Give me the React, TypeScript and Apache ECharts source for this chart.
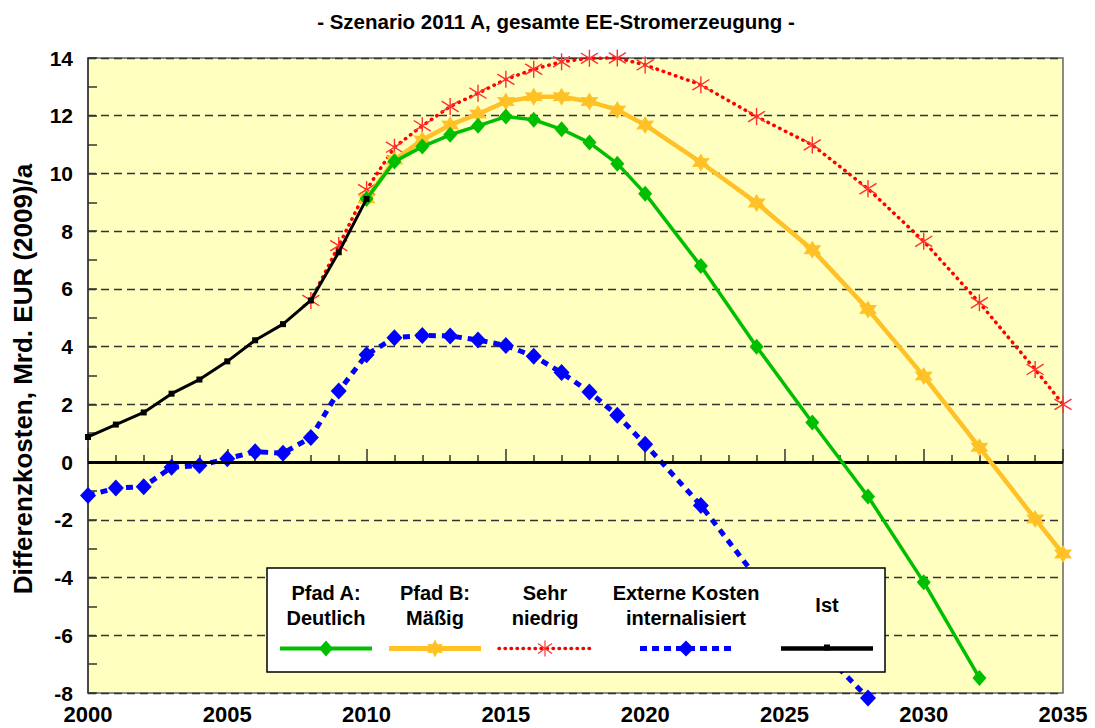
import React, { useEffect, useRef } from "react";
import * as echarts from "echarts";

const FONT = '"Liberation Sans", Arial, sans-serif';

const yearsIst = [2000, 2001, 2002, 2003, 2004, 2005, 2006, 2007, 2008, 2009, 2010];
const ist = [0.87, 1.3, 1.72, 2.37, 2.86, 3.49, 4.22, 4.78, 5.6, 7.27, 9.12];

const yearsA = [2010, 2011, 2012, 2013, 2014, 2015, 2016, 2017, 2018, 2019, 2020, 2022, 2024, 2026, 2028, 2030, 2032];
const pfadA = [9.12, 10.41, 10.93, 11.34, 11.65, 11.97, 11.86, 11.53, 11.07, 10.34, 9.3, 6.79, 4.0, 1.37, -1.19, -4.16, -7.48];

const yearsB = [2010, 2011, 2012, 2013, 2014, 2015, 2016, 2017, 2018, 2019, 2020, 2022, 2024, 2026, 2028, 2030, 2032, 2034, 2035];
const pfadB = [9.12, 10.47, 11.16, 11.68, 12.06, 12.49, 12.66, 12.66, 12.49, 12.2, 11.68, 10.38, 8.98, 7.36, 5.29, 2.98, 0.51, -1.97, -3.18];

const yearsSehr = [2008, 2009, 2010, 2011, 2012, 2013, 2014, 2015, 2016, 2017, 2018, 2019, 2020, 2022, 2024, 2026, 2028, 2030, 2032, 2034, 2035];
const sehrNiedrig = [5.6, 7.5, 9.44, 10.91, 11.65, 12.32, 12.78, 13.26, 13.61, 13.87, 13.99, 14.0, 13.76, 13.07, 11.97, 10.99, 9.47, 7.65, 5.52, 3.21, 2.0];

const yearsExt = [2000, 2001, 2002, 2003, 2004, 2005, 2006, 2007, 2008, 2009, 2010, 2011, 2012, 2013, 2014, 2015, 2016, 2017, 2018, 2019, 2020, 2022, 2024, 2026, 2028];
const extern = [-1.16, -0.9, -0.85, -0.18, -0.12, 0.12, 0.36, 0.31, 0.85, 2.46, 3.72, 4.31, 4.39, 4.37, 4.23, 4.04, 3.67, 3.1, 2.43, 1.62, 0.62, -1.5, -4.0, -6.2, -8.17];

const legendNames = [
  ["Pfad A:", "Deutlich"],
  ["Pfad B:", "Mäßig"],
  ["Sehr", "niedrig"],
  ["Externe Kosten", "internalisiert"],
  ["Ist"],
];

const title = "- Szenario 2011 A, gesamte EE-Stromerzeugung -";
const yTitle = "Differenzkosten, Mrd. EUR (2009)/a";

const GREEN = "#00BE00";
const ORANGE = "#FFC125";
const RED = "#FF0000";
const BLUE = "#0000FF";
const BLACK = "#000000";

const pairs = (xs: number[], ys: number[]) => xs.map((x, i) => [x, ys[i]]);

const STAR_PATH =
  "path://M10,0 L12.75,5.24 L18.66,5 L15.5,10 L18.66,15 L12.75,14.76 L10,20 L7.25,14.76 L1.34,15 L4.5,10 L1.34,5 L7.25,5.24 Z";
const AST_PATH = "path://M8,0L8,16M1,3L15,13M1,13L15,3";

function hexagram(cx: number, cy: number, r: number) {
  const pts: number[][] = [];
  for (let i = 0; i < 12; i++) {
    const a = (-90 + i * 30) * (Math.PI / 180);
    const rr = i % 2 === 0 ? r : r * 0.55;
    pts.push([cx + rr * Math.cos(a), cy + rr * Math.sin(a)]);
  }
  return pts;
}

export default function App() {
  const ref = useRef<HTMLDivElement>(null);
  useEffect(() => {
    if (!ref.current) return;
    const chart = echarts.init(ref.current, null, { renderer: "svg" });

    const lx = [326, 435, 545, 686, 827];
    const ly = 648.5;
    const half = 46;
    const legendGraphics: any[] = [
      {
        type: "rect",
        shape: { x: 267, y: 568, width: 618, height: 104 },
        style: { fill: "#fff", stroke: "#000", lineWidth: 1.5 },
        z: 100,
      },
    ];
    const lfont = `bold 20px ${FONT}`;
    legendNames.forEach((lines, i) => {
      if (lines.length === 2) {
        legendGraphics.push({
          type: "text",
          x: lx[i],
          y: 593,
          style: { text: lines[0], font: lfont, fill: "#000", textAlign: "center", textVerticalAlign: "middle" },
          z: 101,
        });
        legendGraphics.push({
          type: "text",
          x: lx[i],
          y: 618,
          style: { text: lines[1], font: lfont, fill: "#000", textAlign: "center", textVerticalAlign: "middle" },
          z: 101,
        });
      } else {
        legendGraphics.push({
          type: "text",
          x: lx[i],
          y: 605,
          style: { text: lines[0], font: lfont, fill: "#000", textAlign: "center", textVerticalAlign: "middle" },
          z: 101,
        });
      }
    });
    const sample = (i: number, stroke: string, lineWidth: number, lineDash: any, cap = "butt") => ({
      type: "line",
      shape: { x1: lx[i] - half, y1: ly, x2: lx[i] + half, y2: ly },
      style: { stroke, lineWidth, lineDash, lineCap: cap },
      z: 101,
    });
    legendGraphics.push(sample(0, GREEN, 4, null));
    legendGraphics.push({
      type: "polygon",
      shape: { points: [[lx[0], ly - 8], [lx[0] + 7, ly], [lx[0], ly + 8], [lx[0] - 7, ly]] },
      style: { fill: GREEN },
      z: 102,
    });
    legendGraphics.push(sample(1, ORANGE, 5, null));
    legendGraphics.push({
      type: "polygon",
      shape: { points: hexagram(lx[1], ly, 9) },
      style: { fill: ORANGE },
      z: 102,
    });
    legendGraphics.push(sample(2, RED, 3.5, [0.5, 5.5], "round"));
    [[0, -8, 0, 8], [-7, -5, 7, 5], [-7, 5, 7, -5]].forEach((s) =>
      legendGraphics.push({
        type: "line",
        shape: { x1: lx[2] + s[0], y1: ly + s[1], x2: lx[2] + s[2], y2: ly + s[3] },
        style: { stroke: "#FF3030", lineWidth: 1.2 },
        z: 102,
      })
    );
    legendGraphics.push(sample(3, BLUE, 5, [7, 5]));
    legendGraphics.push({
      type: "polygon",
      shape: { points: [[lx[3], ly - 8], [lx[3] + 8, ly], [lx[3], ly + 8], [lx[3] - 8, ly]] },
      style: { fill: BLUE },
      z: 102,
    });
    legendGraphics.push(sample(4, BLACK, 4.5, null));
    legendGraphics.push({
      type: "rect",
      shape: { x: lx[4] - 3, y: ly - 4, width: 6, height: 6 },
      style: { fill: BLACK },
      z: 102,
    });

    const option: any = {
      animation: false,
      backgroundColor: "#ffffff",
      textStyle: { fontFamily: FONT },
      grid: {
        left: 88,
        right: 32,
        top: 58,
        bottom: 35,
        show: true,
        backgroundColor: "#FFFFC0",
        borderColor: "#666666",
        borderWidth: 1.5,
        containLabel: false,
        outerBoundsMode: "none",
      },
      xAxis: {
        type: "value",
        min: 2000,
        max: 2035,
        interval: 5,
        axisLine: { show: true, lineStyle: { color: "#333", width: 1.5 } },
        axisTick: { show: true, inside: true, length: 13, lineStyle: { color: "#333", width: 1.5 } },
        minorTick: { show: true, splitNumber: 5, length: 7, lineStyle: { color: "#333", width: 1.5 } },
        splitLine: { show: false },
        axisLabel: {
          color: "#000",
          fontSize: 22,
          fontWeight: "bold",
          fontFamily: FONT,
          margin: 10,
          formatter: (v: number) => String(v),
        },
      },
      yAxis: {
        type: "value",
        min: -8,
        max: 14,
        interval: 2,
        axisLine: { show: true, lineStyle: { color: "#333", width: 1.5 } },
        axisTick: { show: true, inside: true, length: 9, lineStyle: { color: "#333", width: 1.5 } },
        minorTick: { show: true, splitNumber: 2, length: 9, lineStyle: { color: "#333", width: 1.5 } },
        splitLine: { show: true, lineStyle: { color: "#333", width: 1.3, type: [8, 5] } },
        axisLabel: { color: "#000", fontSize: 21, fontWeight: "bold", fontFamily: FONT, margin: 15 },
      },
      graphic: [
        {
          type: "text",
          x: 556,
          y: 21,
          style: { text: title, font: `bold 20.5px ${FONT}`, fill: "#000", textAlign: "center", textVerticalAlign: "middle" },
        },
        {
          type: "text",
          x: 23,
          y: 379,
          rotation: Math.PI / 2,
          style: { text: yTitle, font: `bold 26px ${FONT}`, fill: "#000", textAlign: "center", textVerticalAlign: "middle" },
        },
        ...legendGraphics,
      ],
      series: [
        {
          name: "Externe Kosten internalisiert",
          type: "line",
          data: pairs(yearsExt, extern),
          clip: false,
          symbol: "diamond",
          symbolSize: [16, 17],
          itemStyle: { color: BLUE },
          lineStyle: { color: BLUE, width: 5, type: [7, 6] },
          z: 3,
          markLine: {
            silent: true,
            symbol: ["none", "none"],
            label: { show: false },
            lineStyle: { color: "#000", width: 3, type: "solid" },
            data: [{ yAxis: 0 }],
          },
        },
        {
          name: "Sehr niedrig",
          type: "line",
          data: pairs(yearsSehr, sehrNiedrig),
          clip: false,
          symbol: AST_PATH,
          symbolSize: 17,
          itemStyle: { color: "#FF3030", borderColor: "#FF3030", borderWidth: 1.4 },
          lineStyle: { color: RED, width: 3.5, type: [0.5, 6], cap: "round" },
          z: 4,
        },
        {
          name: "Pfad B: Mäßig",
          type: "line",
          data: pairs(yearsB, pfadB),
          clip: false,
          symbol: STAR_PATH,
          symbolSize: 18,
          itemStyle: { color: ORANGE },
          lineStyle: { color: ORANGE, width: 4.5 },
          z: 5,
        },
        {
          name: "Pfad A: Deutlich",
          type: "line",
          data: pairs(yearsA, pfadA),
          clip: false,
          symbol: "diamond",
          symbolSize: [14, 16],
          itemStyle: { color: GREEN },
          lineStyle: { color: GREEN, width: 3.5 },
          z: 6,
        },
        {
          name: "Ist",
          type: "line",
          data: pairs(yearsIst, ist),
          symbol: "rect",
          symbolSize: 6,
          itemStyle: { color: BLACK },
          lineStyle: { color: BLACK, width: 3 },
          z: 7,
        },
      ],
    };
    chart.setOption(option);
    return () => chart.dispose();
  }, []);

  return (
    <div
      ref={ref}
      style={{ position: "absolute", left: 0, top: 0, width: 1095, height: 728, background: "#fff" }}
    />
  );
}
